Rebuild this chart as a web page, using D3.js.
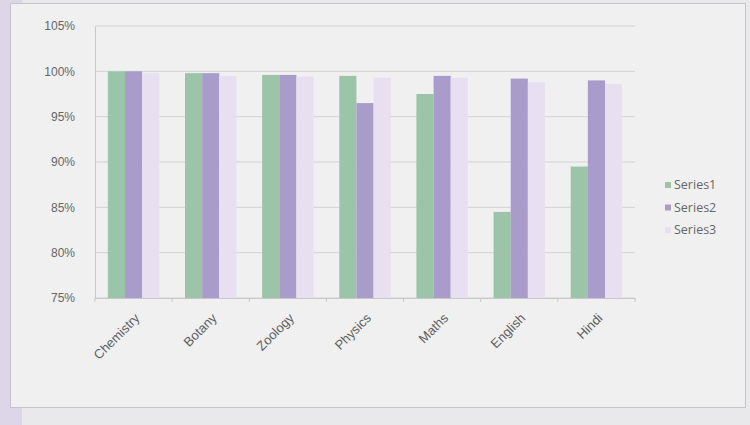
<!DOCTYPE html>
<html><head><meta charset="utf-8">
<script src="https://cdnjs.cloudflare.com/ajax/libs/d3/7.8.5/d3.min.js"></script>
<style>
html,body{margin:0;padding:0;background:#e9e8ea;}
svg{display:block;font-family:"Open Sans","Liberation Sans",sans-serif;}
</style></head>
<body>
<svg id="c" width="750" height="425"></svg>
<script>
const categories = ["Chemistry","Botany","Zoology","Physics","Maths","English","Hindi"];
const seriesNames = ["Series1","Series2","Series3"];
const series1 = [100, 99.8, 99.6, 99.5, 97.5, 84.5, 89.5];
const series2 = [100, 99.8, 99.6, 96.5, 99.5, 99.2, 99.0];
const series3 = [99.8, 99.5, 99.4, 99.3, 99.3, 98.8, 98.6];
const yTicks = [75, 80, 85, 90, 95, 100, 105];
const colors = ["#9cc4a8", "#a99ccb", "#e8e0f0"];

const svg = d3.select("#c");
svg.append("rect").attr("x",0).attr("y",0).attr("width",22).attr("height",425).attr("fill","#ddd6e8");
svg.append("rect").attr("x",10.5).attr("y",3.5).attr("width",735).attr("height",404)
  .attr("fill","#f0f0f0").attr("stroke","#c4c4c4");

const m = {left:95, top:26, right:635, bottom:298};
const x0 = d3.scaleBand().domain(categories).range([m.left, m.right]).paddingInner(0.333).paddingOuter(0.1665);
const x1 = d3.scaleBand().domain(seriesNames).range([0, x0.bandwidth()]);
const y = d3.scaleLinear().domain([75,105]).range([m.bottom, m.top]);

const g = svg.append("g");
g.selectAll("line.grid").data(yTicks).join("line")
  .attr("x1", m.left).attr("x2", m.right)
  .attr("y1", d=>y(d)).attr("y2", d=>y(d))
  .attr("stroke","#d2d2d2").attr("stroke-width",1);

const data = [series1, series2, series3];
categories.forEach((c,i)=>{
  seriesNames.forEach((s,j)=>{
    g.append("rect")
      .attr("x", x0(c)+x1(s))
      .attr("y", y(data[j][i]))
      .attr("width", x1.bandwidth())
      .attr("height", y(75)-y(data[j][i]))
      .attr("fill", colors[j]);
  });
});

const yAxis = d3.axisLeft(y).tickValues(yTicks).tickFormat(d=>d+"%").tickSize(0).tickPadding(20);
const ya = svg.append("g").attr("transform",`translate(${m.left},0)`).call(yAxis);
ya.select(".domain").attr("stroke","#c8c8c8");
ya.selectAll("text").attr("fill","#666").attr("font-size","12px");

const xAxis = d3.axisBottom(x0).tickSize(0).tickPadding(8);
const xa = svg.append("g").attr("transform",`translate(0,${m.bottom})`).call(xAxis);
xa.select(".domain").attr("stroke","#c8c8c8");
xa.selectAll("text").attr("fill","#5f5f5f").attr("font-size","13px")
  .attr("text-anchor","end").attr("transform","translate(-2,12) rotate(-45)").attr("dy","0.35em").attr("dx","0");
const step = x0.step();
d3.range(categories.length+1).forEach(k=>{
  const xx = m.left + k*step;
  svg.append("line").attr("x1",xx).attr("x2",xx).attr("y1",m.bottom).attr("y2",m.bottom+4).attr("stroke","#c8c8c8");
});

const lg = svg.append("g");
seriesNames.forEach((s,j)=>{
  const yy = 185 + j*22.5;
  lg.append("rect").attr("x",665).attr("y",yy-3).attr("width",6).attr("height",6).attr("fill",colors[j]);
  lg.append("text").attr("x",674).attr("y",yy).attr("dy","0.35em").attr("font-size","12.5px").attr("fill","#666").text(s);
});
</script>
</body></html>
